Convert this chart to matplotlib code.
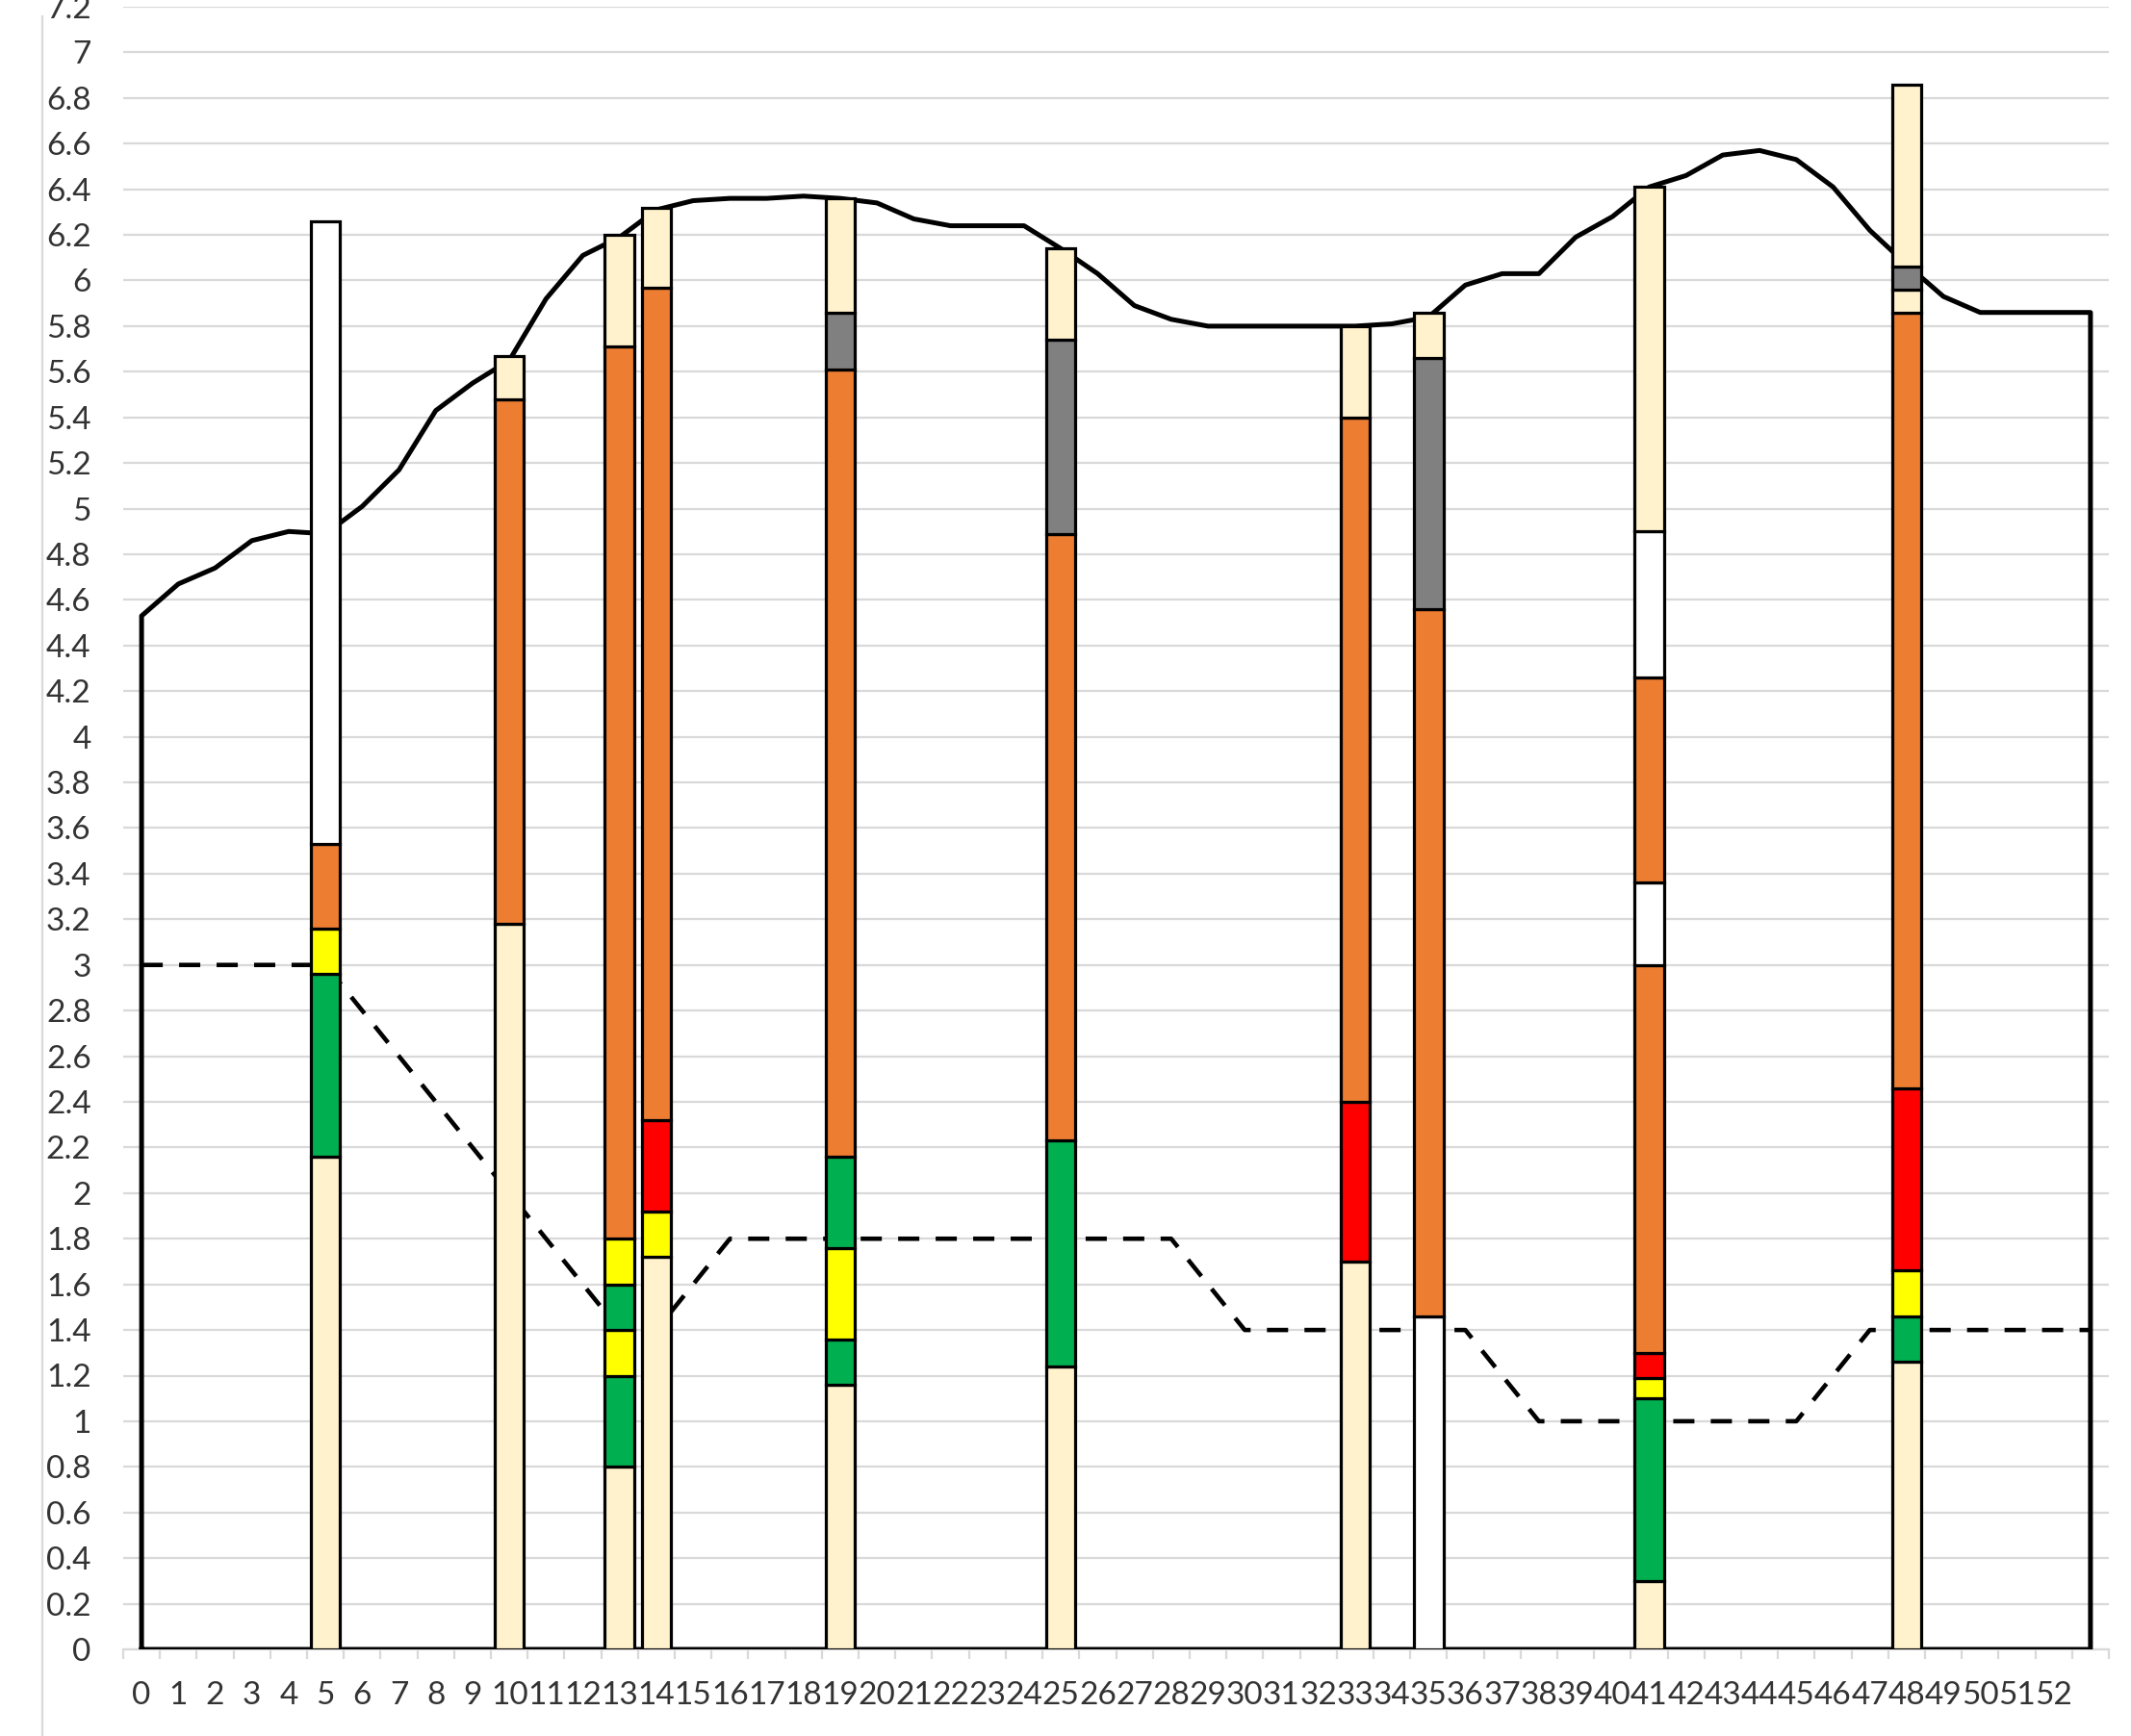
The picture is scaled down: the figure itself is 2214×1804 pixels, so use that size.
import numpy as np
import matplotlib.pyplot as plt
from matplotlib.lines import Line2D

plt.rcParams['font.family'] = ['Lato', 'DejaVu Sans']

# category axis: 0..52 plus one unlabeled point at the end
categories = [str(i) for i in range(53)] + ['']

# ground profile (area outline)
ground = [4.53, 4.67, 4.74, 4.86, 4.90, 4.89, 5.01, 5.17, 5.43, 5.55,
          5.65, 5.92, 6.11, 6.19, 6.31, 6.35, 6.36, 6.36, 6.37, 6.36,
          6.34, 6.27, 6.24, 6.24, 6.24, 6.14, 6.03, 5.89, 5.83, 5.80,
          5.80, 5.80, 5.80, 5.80, 5.81, 5.84, 5.98, 6.03, 6.03, 6.19,
          6.28, 6.41, 6.46, 6.55, 6.57, 6.53, 6.41, 6.22, 6.07, 5.93,
          5.86, 5.86, 5.86, 5.86]

# dashed line
water = [3.0, 3.0, 3.0, 3.0, 3.0, 3.0, 2.8, 2.6, 2.4, 2.2,
         2.0, 1.8, 1.6, 1.4, 1.4, 1.6, 1.8, 1.8, 1.8, 1.8,
         1.8, 1.8, 1.8, 1.8, 1.8, 1.8, 1.8, 1.8, 1.8, 1.6,
         1.4, 1.4, 1.4, 1.4, 1.4, 1.4, 1.4, 1.2, 1.0, 1.0,
         1.0, 1.0, 1.0, 1.0, 1.0, 1.0, 1.2, 1.4, 1.4, 1.4,
         1.4, 1.4, 1.4, 1.4]

# boreholes: category, layer types (bottom -> top) and layer top levels
bore_x = [5, 10, 13, 14, 19, 25, 33, 35, 41, 48]
bore_layers = [
    ['cream', 'green', 'yellow', 'orange', 'white'],
    ['cream', 'orange', 'cream'],
    ['cream', 'green', 'yellow', 'green', 'yellow', 'orange', 'cream'],
    ['cream', 'yellow', 'red', 'orange', 'cream'],
    ['cream', 'green', 'yellow', 'green', 'orange', 'gray', 'cream'],
    ['cream', 'green', 'orange', 'gray', 'cream'],
    ['cream', 'red', 'orange', 'cream'],
    ['white', 'orange', 'gray', 'cream'],
    ['cream', 'green', 'yellow', 'red', 'orange', 'white', 'orange', 'white', 'cream'],
    ['cream', 'green', 'yellow', 'red', 'orange', 'cream', 'gray', 'cream'],
]
bore_tops = [
    [2.16, 2.96, 3.16, 3.53, 6.26],
    [3.18, 5.48, 5.67],
    [0.80, 1.20, 1.40, 1.60, 1.80, 5.71, 6.20],
    [1.72, 1.92, 2.32, 5.97, 6.32],
    [1.16, 1.36, 1.76, 2.16, 5.61, 5.86, 6.36],
    [1.24, 2.23, 4.89, 5.74, 6.14],
    [1.70, 2.40, 5.40, 5.80],
    [1.46, 4.56, 5.66, 5.86],
    [0.30, 1.10, 1.19, 1.30, 3.00, 3.36, 4.26, 4.90, 6.41],
    [1.26, 1.46, 1.66, 2.46, 5.86, 5.96, 6.06, 6.86],
]

palette = {'cream': '#FFF2CC', 'orange': '#ED7D31', 'yellow': '#FFFF00',
           'green': '#00B050', 'red': '#FF0000', 'gray': '#808080',
           'white': '#FFFFFF'}

W, H = 2214, 1804
fig = plt.figure(figsize=(W / 100, H / 100), dpi=100)
x0, x1, y0, y1 = 128, 2191, 1714, 7
ax = fig.add_axes([x0 / W, 1 - y0 / H, (x1 - x0) / W, (y0 - y1) / H])

xs = np.arange(len(ground))

# gridlines
ax.set_ylim(0, 7.2)
ax.set_xlim(-0.5, len(ground) - 0.5)
ax.set_yticks(np.arange(0, 7.21, 0.2))
ax.set_yticklabels([f'{v:g}' for v in np.round(np.arange(0, 7.21, 0.2), 1)])
ax.yaxis.grid(True, color='#D9D9D9', linewidth=1.6, zorder=0)
ax.set_axisbelow(True)

# ground profile outline (area without fill)
ax.plot(np.r_[0, xs, xs[-1], 0], np.r_[0, ground, 0, 0], color='black',
        linewidth=3.6, solid_joinstyle='round', zorder=2)

# dashed line
ax.plot(xs, water, color='black', linewidth=3.3, dashes=(4.8, 3.7),
        dash_capstyle='butt', zorder=2)

# stacked borehole columns
for x, layers, tops in zip(bore_x, bore_layers, bore_tops):
    bottoms = [0] + tops[:-1]
    heights = np.diff([0] + tops)
    ax.bar([x] * len(tops), heights, bottom=bottoms, width=0.8,
           color=[palette[l] for l in layers], edgecolor='black',
           linewidth=2.3, zorder=3)

# axes styling
for s in ['left', 'right', 'top']:
    ax.spines[s].set_visible(False)
ax.spines['bottom'].set_color('#D9D9D9')
ax.spines['bottom'].set_linewidth(1.6)
ax.spines['bottom'].set_zorder(1)

ax.set_xticks(xs)
ax.set_xticklabels(categories)
ax.set_xticks(np.arange(-0.5, len(ground), 1), minor=True)
ax.tick_params(axis='x', which='major', length=0, pad=24, labelsize=24,
               labelcolor='#333333')
ax.tick_params(axis='x', which='minor', length=7, width=1.6, color='#D9D9D9',
               direction='out')
ax.tick_params(axis='y', length=0, pad=24, labelsize=24, labelcolor='#333333')

# left chart border
fig.add_artist(Line2D([44 / W, 44 / W], [0, 1 - 17 / H], transform=fig.transFigure,
                      color='#D9D9D9', linewidth=1.6))

fig.savefig('out.png', dpi=100)
